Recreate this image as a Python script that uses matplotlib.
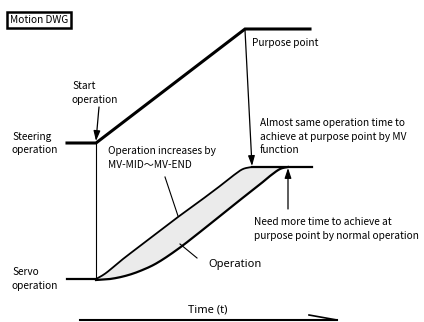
import numpy as np
import matplotlib.pyplot as plt
from matplotlib.patches import FancyArrowPatch

# -----------------------------
# Data (picture coordinates, y grows downward)
# -----------------------------

steer_x = [67, 96, 245, 310]
steer_y = [143, 143, 29, 29]

servo_flat_x = [67, 96]
servo_flat_y = [279, 279]

mv_x = [96, 106, 123, 140, 157, 178, 200, 220, 234, 243, 252]
mv_y = [279, 273, 259, 246, 233, 217, 201, 186, 175, 169, 167]

normal_x = [96, 110, 125, 140, 157, 178, 200, 220, 240, 258, 270, 280, 288]
normal_y = [280, 279, 276, 271, 263, 249, 232, 216, 200, 186, 176, 169, 167]

plateau_x = [252, 312]
plateau_y = [167, 167]


def smooth(px, py, n=20):
    # Catmull-Rom through the read points
    p = np.column_stack([px, py]).astype(float)
    p = np.vstack([p[0], p, p[-1]])
    out = []
    t = np.linspace(0, 1, n, endpoint=False)[:, None]
    for i in range(1, len(p) - 2):
        p0, p1, p2, p3 = p[i - 1], p[i], p[i + 1], p[i + 2]
        seg = 0.5 * ((2 * p1) + (-p0 + p2) * t
                     + (2 * p0 - 5 * p1 + 4 * p2 - p3) * t ** 2
                     + (-p0 + 3 * p1 - 3 * p2 + p3) * t ** 3)
        out.append(seg)
    out.append(p[-2][None, :])
    out = np.vstack(out)
    return out[:, 0], out[:, 1]


# -----------------------------
# Figure
# -----------------------------

plt.rcParams["font.family"] = ["Noto Sans CJK JP", "DejaVu Sans"]

fig = plt.figure(figsize=(4.24, 3.22), dpi=100)
ax = fig.add_axes([0, 0, 1, 1])
ax.set_xlim(0, 424)
ax.set_ylim(322, 0)
ax.axis("off")

mvx, mvy = smooth(mv_x, mv_y)
nx, ny = smooth(normal_x, normal_y)

# fill between the two servo curves
xs = np.linspace(96, 288, 300)
upper = np.interp(xs, np.append(mvx, 288), np.append(mvy, 167))
lower = np.interp(xs, nx, ny)
ax.fill_between(xs, upper, lower, color="#ebebeb", lw=0)

ax.plot(steer_x, steer_y, color="black", lw=2.2, solid_joinstyle="miter")
ax.plot(servo_flat_x, servo_flat_y, color="black", lw=1.6)
ax.plot(mvx, mvy, color="black", lw=1.3)
ax.plot(nx, ny, color="black", lw=1.6)
ax.plot(plateau_x, plateau_y, color="black", lw=1.6)

# vertical line at start
ax.plot([96, 96], [143, 279], color="black", lw=0.8)

# arrows
arrow_kw = dict(arrowstyle="-|>,head_length=6,head_width=2", color="black",
                lw=0.9, shrinkA=0, shrinkB=0, mutation_scale=1)
ax.add_patch(FancyArrowPatch((99, 107), (96, 141), **arrow_kw))
ax.add_patch(FancyArrowPatch((245, 30), (252, 166), **arrow_kw))
ax.add_patch(FancyArrowPatch((288, 209), (288, 168), **arrow_kw))

# pointer lines
ax.plot([165, 178], [177, 216], color="black", lw=0.8)
ax.plot([180, 197], [244, 258], color="black", lw=0.8)

# time axis
ax.plot([80, 337], [320, 320], color="black", lw=1.5)
ax.plot([309, 337], [315, 320], color="black", lw=1.2)

# -----------------------------
# Text
# -----------------------------

fs = 7.3
ls = 1.4

ax.text(10, 20, "Motion DWG", fontsize=fs, va="center", ha="left",
        bbox=dict(boxstyle="square,pad=0.3", fc="white", ec="black", lw=1.8))
ax.text(72, 93, "Start\noperation", fontsize=fs, va="center", linespacing=ls)
ax.text(12, 143.5, "Steering\noperation", fontsize=fs, va="center", linespacing=ls)
ax.text(12, 279, "Servo\noperation", fontsize=fs, va="center", linespacing=ls)
ax.text(252, 43, "Purpose point", fontsize=fs, va="center")
ax.text(260, 136.5,
        "Almost same operation time to\nachieve at purpose point by MV\nfunction",
        fontsize=fs, va="center", linespacing=ls)
ax.text(254, 229,
        "Need more time to achieve at\npurpose point by normal operation",
        fontsize=fs, va="center", linespacing=ls)
ax.text(108, 158, "Operation increases by\nMV-MID〜MV-END",
        fontsize=fs, va="center", linespacing=ls)
ax.text(208, 265, "Operation", fontsize=8, va="center", family="Noto Sans")
ax.text(208, 310, "Time (t)", fontsize=8, va="center", ha="center", family="Noto Sans")

fig.savefig("out.png", dpi=100)
